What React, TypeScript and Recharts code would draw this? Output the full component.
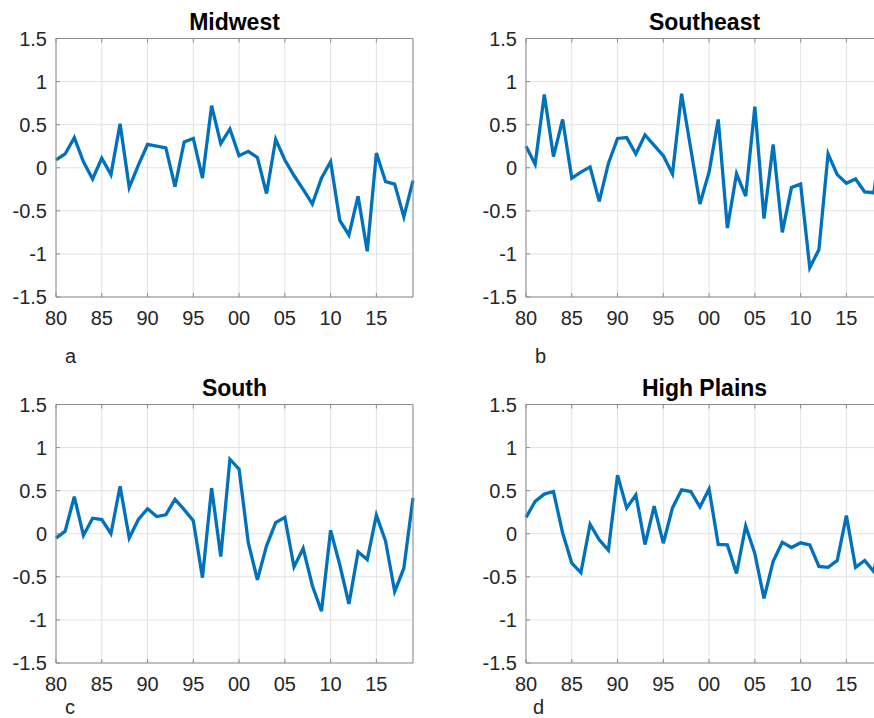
import React from 'react';
import { LineChart, Line, XAxis, YAxis, CartesianGrid } from 'recharts';

const years = [
  1980, 1981, 1982, 1983, 1984, 1985, 1986, 1987, 1988, 1989,
  1990, 1991, 1992, 1993, 1994, 1995, 1996, 1997, 1998, 1999,
  2000, 2001, 2002, 2003, 2004, 2005, 2006, 2007, 2008, 2009,
  2010, 2011, 2012, 2013, 2014, 2015, 2016, 2017, 2018, 2019,
];

const midwest = [
  0.09, 0.16, 0.35, 0.07, -0.13, 0.11, -0.08, 0.51, -0.23, 0.03,
  0.27, 0.25, 0.23, -0.22, 0.3, 0.34, -0.12, 0.72, 0.28, 0.45,
  0.14, 0.19, 0.12, -0.3, 0.33, 0.09, -0.09, -0.25, -0.42, -0.12,
  0.07, -0.61, -0.78, -0.33, -0.97, 0.17, -0.16, -0.19, -0.57, -0.15,
];

const southeast = [
  0.25, 0.04, 0.85, 0.13, 0.56, -0.12, -0.05, 0.01, -0.39, 0.05,
  0.34, 0.35, 0.16, 0.38, 0.26, 0.14, -0.07, 0.86, 0.22, -0.42,
  -0.05, 0.56, -0.7, -0.07, -0.33, 0.71, -0.59, 0.27, -0.75, -0.23,
  -0.19, -1.16, -0.95, 0.16, -0.08, -0.18, -0.13, -0.28, -0.29, 0.5,
];

const south = [
  -0.05, 0.03, 0.43, -0.02, 0.18, 0.165, 0.0, 0.55, -0.05, 0.165,
  0.29, 0.2, 0.22, 0.4, 0.28, 0.15, -0.51, 0.53, -0.265, 0.865,
  0.75, -0.1, -0.535, -0.14, 0.13, 0.19, -0.385, -0.17, -0.6, -0.9,
  0.04, -0.36, -0.815, -0.21, -0.3, 0.215, -0.085, -0.67, -0.4, 0.415,
];

const highPlains = [
  0.19, 0.375, 0.46, 0.49, 0.01, -0.34, -0.45, 0.11, -0.07, -0.19,
  0.68, 0.3, 0.45, -0.125, 0.32, -0.11, 0.3, 0.51, 0.49, 0.31,
  0.52, -0.125, -0.13, -0.46, 0.09, -0.23, -0.75, -0.32, -0.1, -0.16,
  -0.105, -0.13, -0.38, -0.39, -0.31, 0.21, -0.39, -0.31, -0.44, 0.1,
];

const xTicks = [1980, 1985, 1990, 1995, 2000, 2005, 2010, 2015];
const yTicks = [-1.5, -1, -0.5, 0, 0.5, 1, 1.5];

const FONT = '"Liberation Sans", Arial, Helvetica, sans-serif';
const BOX = '#8c8c8c';
const TEXT = '#262626';

const twoDigit = (v: number) => String(v % 100).padStart(2, '0');
const blank = () => '';

function Panel({ values, left, top }: { values: number[]; left: number; top: number }) {
  const data = years.map((year, i) => ({ year, v: values[i] }));
  const tick = { fontSize: 20, fill: TEXT, fontFamily: FONT };
  return (
    <div style={{ position: 'absolute', left, top }}>
      <LineChart width={440} height={330} data={data} margin={{ top: 37.5, right: 26, bottom: 3, left: 0 }}>
        <CartesianGrid stroke="#e2e2e2" strokeWidth={1} />
        <XAxis
          dataKey="year"
          type="number"
          domain={[1980, 2019]}
          ticks={xTicks}
          tickFormatter={twoDigit}
          height={30}
          tickSize={-4}
          tickMargin={18}
          tick={tick}
          stroke={BOX}
          interval={0}
        />
        <XAxis
          xAxisId="top"
          orientation="top"
          dataKey="year"
          type="number"
          domain={[1980, 2019]}
          ticks={xTicks}
          tickFormatter={blank}
          height={1}
          tickSize={-4}
          stroke={BOX}
          interval={0}
        />
        <YAxis
          type="number"
          domain={[-1.5, 1.5]}
          ticks={yTicks}
          width={56}
          tickSize={-4}
          tickMargin={13}
          tick={tick}
          stroke={BOX}
          interval={0}
        />
        <YAxis
          yAxisId="right"
          orientation="right"
          type="number"
          domain={[-1.5, 1.5]}
          ticks={yTicks}
          tickFormatter={blank}
          width={1}
          tickSize={-4}
          stroke={BOX}
          interval={0}
        />
        <Line
          dataKey="v"
          type="linear"
          stroke="#0072BD"
          strokeWidth={3.3}
          dot={false}
          isAnimationActive={false}
        />
      </LineChart>
    </div>
  );
}

export default function App() {
  return (
    <div
      style={{
        position: 'absolute',
        left: 0,
        top: 0,
        width: 874,
        height: 718,
        overflow: 'hidden',
        background: '#fff',
      }}
    >
      <Panel values={midwest} left={0} top={0} />
      <Panel values={southeast} left={470} top={0} />
      <Panel values={south} left={0} top={366} />
      <Panel values={highPlains} left={470} top={366} />
      <svg
        width={874}
        height={718}
        style={{ position: 'absolute', left: 0, top: 0, pointerEvents: 'none' }}
        fontFamily={FONT}
      >
        <g fontSize={23} fontWeight="bold" fill="#000" textAnchor="middle">
          <text x={234.5} y={30}>Midwest</text>
          <text x={704.5} y={30}>Southeast</text>
          <text x={234.5} y={396}>South</text>
          <text x={704.5} y={396}>High Plains</text>
        </g>
        <g fontSize={20} fill={TEXT}>
          <text x={65} y={363}>a</text>
          <text x={535} y={363}>b</text>
          <text x={65} y={714}>c</text>
          <text x={533} y={714}>d</text>
        </g>
      </svg>
    </div>
  );
}
